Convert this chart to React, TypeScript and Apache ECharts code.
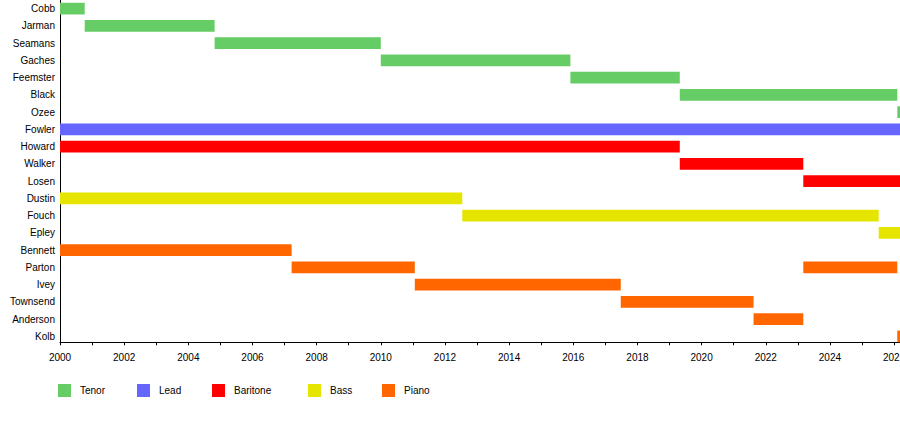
import React, { useEffect, useRef } from "react";
import * as echarts from "echarts";

const members = [
  "Cobb", "Jarman", "Seamans", "Gaches", "Feemster", "Black", "Ozee",
  "Fowler", "Howard", "Walker", "Losen", "Dustin", "Fouch", "Epley",
  "Bennett", "Parton", "Ivey", "Townsend", "Anderson", "Kolb",
];

const END = 2027;

const tenor: [string, number, number][] = [
  ["Cobb", 2000, 2000.77],
  ["Jarman", 2000.77, 2004.82],
  ["Seamans", 2004.82, 2010.0],
  ["Gaches", 2010.0, 2015.91],
  ["Feemster", 2015.91, 2019.32],
  ["Black", 2019.32, 2026.1],
  ["Ozee", 2026.1, END],
];
const lead: [string, number, number][] = [["Fowler", 2000, END]];
const baritone: [string, number, number][] = [
  ["Howard", 2000, 2019.32],
  ["Walker", 2019.32, 2023.17],
  ["Losen", 2023.17, END],
];
const bass: [string, number, number][] = [
  ["Dustin", 2000, 2012.54],
  ["Fouch", 2012.54, 2025.52],
  ["Epley", 2025.52, END],
];
const piano: [string, number, number][] = [
  ["Bennett", 2000, 2007.22],
  ["Parton", 2007.22, 2011.06],
  ["Ivey", 2011.06, 2017.48],
  ["Townsend", 2017.48, 2021.62],
  ["Anderson", 2021.62, 2023.17],
  ["Parton", 2023.17, 2026.1],
  ["Kolb", 2026.1, END],
];

const parts = ["Tenor", "Lead", "Baritone", "Bass", "Piano"];
const partColors = ["#66CC66", "#6666FF", "#FF0000", "#E5E500", "#FF6600"];
const partData = [tenor, lead, baritone, bass, piano];
const legendLeft = [58, 137, 212, 308, 382];

const FONT = "'Liberation Sans', Arial, sans-serif";

export default function App() {
  const ref = useRef<HTMLDivElement>(null);
  useEffect(() => {
    if (!ref.current) return;
    const chart = echarts.init(ref.current, undefined, { renderer: "svg" });
    const series = parts.map((p, k) => ({
      type: "custom",
      name: p,
      itemStyle: { color: partColors[k] },
      encode: { x: [0, 1], y: 2 },
      data: partData[k].map((d) => [d[1], d[2], members.indexOf(d[0])]),
      renderItem: (params: any, api: any) => {
        const s = api.value(0);
        const e = api.value(1);
        const y = api.value(2);
        const p1 = api.coord([s, y]);
        const p2 = api.coord([e, y]);
        const h = 11.7;
        return {
          type: "rect",
          shape: { x: p1[0], y: p1[1] - h / 2, width: p2[0] - p1[0], height: h },
          style: { fill: partColors[k] },
        };
      },
    }));
    chart.setOption({
      animation: false,
      backgroundColor: "#ffffff",
      textStyle: { fontFamily: FONT },
      grid: { left: 60, top: -1.9, width: 27 * 32.08, height: 344.2 },
      legend: parts.map((p, k) => ({
        data: [p],
        left: legendLeft[k],
        top: 384,
        padding: 0,
        icon: "rect",
        itemWidth: 13,
        itemHeight: 13,
        selectedMode: false,
        textStyle: { fontFamily: FONT, fontSize: 10, color: "#000", padding: [0, 0, 0, 4] },
      })),
      xAxis: {
        type: "value",
        position: "bottom",
        min: 2000,
        max: END,
        interval: 2,
        axisLine: { show: true, onZero: false, lineStyle: { color: "#000", width: 1 } },
        axisTick: { show: true, length: 3, lineStyle: { color: "#000" } },
        minorTick: { show: true, splitNumber: 2, length: 3, lineStyle: { color: "#000" } },
        splitLine: { show: false },
        minorSplitLine: { show: false },
        axisLabel: {
          margin: 10,
          fontSize: 10,
          color: "#000",
          fontFamily: FONT,
          formatter: (v: number) => String(v),
        },
      },
      yAxis: {
        type: "value",
        position: "left",
        inverse: true,
        min: -0.5,
        max: 19.34,
        interval: 0.5,
        axisLine: { show: true, onZero: false, lineStyle: { color: "#000", width: 1 } },
        axisTick: { show: false },
        splitLine: { show: false },
        axisLabel: {
          margin: 5,
          fontSize: 10,
          color: "#000",
          fontFamily: FONT,
          showMinLabel: false,
          showMaxLabel: false,
          formatter: (v: number) =>
            Number.isInteger(v) && v >= 0 && v < members.length ? members[v] : "",
        },
      },
      series,
    });
    return () => chart.dispose();
  }, []);
  return (
    <div
      style={{
        position: "fixed",
        left: 0,
        top: 0,
        width: 900,
        height: 422,
        overflow: "hidden",
        background: "#fff",
      }}
    >
      <div ref={ref} style={{ width: 960, height: 422 }} />
    </div>
  );
}
